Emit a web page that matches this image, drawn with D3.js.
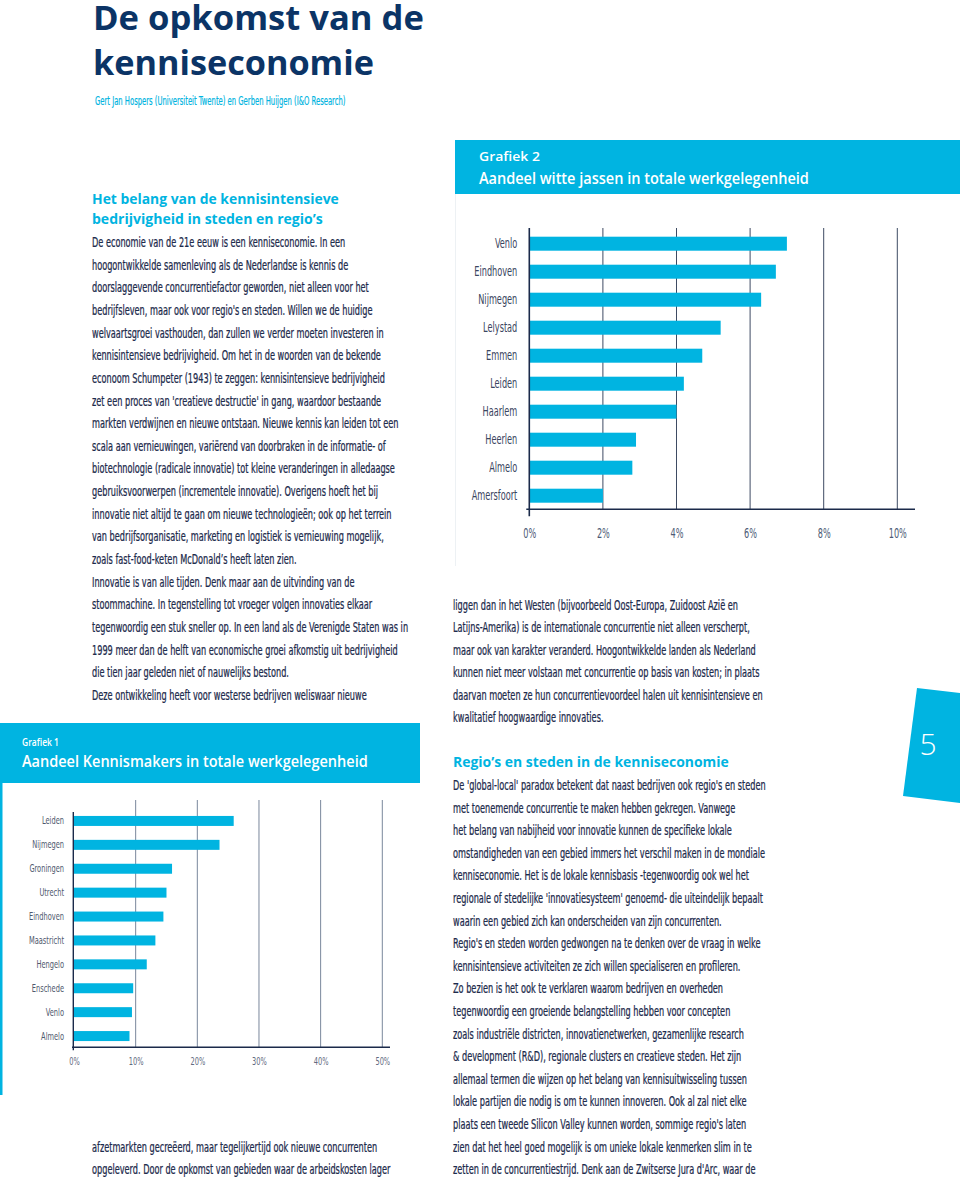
<!DOCTYPE html>
<html>
<head>
<meta charset="utf-8">
<script src="https://cdn.jsdelivr.net/npm/d3@7"></script>
<style>
  body { margin: 0; background: #fff; }
  svg text { font-family: "Liberation Sans Narrow", "Arial Narrow", "DejaVu Sans Condensed", sans-serif; }
  svg text.sans { font-family: "Open Sans", "Noto Sans", sans-serif; }
</style>
</head>
<body>
<svg id="page"></svg>
<script>
// chart data
const cities1 = ["Leiden", "Nijmegen", "Groningen", "Utrecht", "Eindhoven", "Maastricht", "Hengelo", "Enschede", "Venlo", "Almelo"];
const values1 = [25.9, 23.6, 15.9, 15.0, 14.5, 13.2, 11.8, 9.6, 9.4, 9.0];
const ticks1 = [0, 10, 20, 30, 40, 50];

const cities2 = ["Venlo", "Eindhoven", "Nijmegen", "Lelystad", "Emmen", "Leiden", "Haarlem", "Heerlen", "Almelo", "Amersfoort"];
const values2 = [7.0, 6.7, 6.3, 5.2, 4.7, 4.2, 4.0, 2.9, 2.8, 2.0];
const ticks2 = [0, 2, 4, 6, 8, 10];

// article text
const leftLines = [
  "De economie van de 21e eeuw is een kenniseconomie. In een",
  "hoogontwikkelde samenleving als de Nederlandse is kennis de",
  "doorslaggevende concurrentiefactor geworden, niet alleen voor het",
  "bedrijfsleven, maar ook voor regio's en steden. Willen we de huidige",
  "welvaartsgroei vasthouden, dan zullen we verder moeten investeren in",
  "kennisintensieve bedrijvigheid. Om het in de woorden van de bekende",
  "econoom Schumpeter (1943) te zeggen: kennisintensieve bedrijvigheid",
  "zet een proces van 'creatieve destructie' in gang, waardoor bestaande",
  "markten verdwijnen en nieuwe ontstaan. Nieuwe kennis kan leiden tot een",
  "scala aan vernieuwingen, variërend van doorbraken in de informatie- of",
  "biotechnologie (radicale innovatie) tot kleine veranderingen in alledaagse",
  "gebruiksvoorwerpen (incrementele innovatie). Overigens hoeft het bij",
  "innovatie niet altijd te gaan om nieuwe technologieën; ook op het terrein",
  "van bedrijfsorganisatie, marketing en logistiek is vernieuwing mogelijk,",
  "zoals fast-food-keten McDonald’s heeft laten zien.",
  "Innovatie is van alle tijden. Denk maar aan de uitvinding van de",
  "stoommachine. In tegenstelling tot vroeger volgen innovaties elkaar",
  "tegenwoordig een stuk sneller op. In een land als de Verenigde Staten was in",
  "1999 meer dan de helft van economische groei afkomstig uit bedrijvigheid",
  "die tien jaar geleden niet of nauwelijks bestond.",
  "Deze ontwikkeling heeft voor westerse bedrijven weliswaar nieuwe"
];
const bottomLines = [
  "afzetmarkten gecreëerd, maar tegelijkertijd ook nieuwe concurrenten",
  "opgeleverd. Door de opkomst van gebieden waar de arbeidskosten lager"
];
const rightTopLines = [
  "liggen dan in het Westen (bijvoorbeeld Oost-Europa, Zuidoost Azië en",
  "Latijns-Amerika) is de internationale concurrentie niet alleen verscherpt,",
  "maar ook van karakter veranderd. Hoogontwikkelde landen als Nederland",
  "kunnen niet meer volstaan met concurrentie op basis van kosten; in plaats",
  "daarvan moeten ze hun concurrentievoordeel halen uit kennisintensieve en",
  "kwalitatief hoogwaardige innovaties."
];
const rightLines = [
  "De 'global-local' paradox betekent dat naast bedrijven ook regio's en steden",
  "met toenemende concurrentie te maken hebben gekregen. Vanwege",
  "het belang van nabijheid voor innovatie kunnen de specifieke lokale",
  "omstandigheden van een gebied immers het verschil maken in de mondiale",
  "kenniseconomie. Het is de lokale kennisbasis -tegenwoordig ook wel het",
  "regionale of stedelijke 'innovatiesysteem' genoemd- die uiteindelijk bepaalt",
  "waarin een gebied zich kan onderscheiden van zijn concurrenten.",
  "Regio's en steden worden gedwongen na te denken over de vraag in welke",
  "kennisintensieve activiteiten ze zich willen specialiseren en profileren.",
  "Zo bezien is het ook te verklaren waarom bedrijven en overheden",
  "tegenwoordig een groeiende belangstelling hebben voor concepten",
  "zoals industriële districten, innovatienetwerken, gezamenlijke research",
  "& development (R&D), regionale clusters en creatieve steden. Het zijn",
  "allemaal termen die wijzen op het belang van kennisuitwisseling tussen",
  "lokale partijen die nodig is om te kunnen innoveren. Ook al zal niet elke",
  "plaats een tweede Silicon Valley kunnen worden, sommige regio's laten",
  "zien dat het heel goed mogelijk is om unieke lokale kenmerken slim in te",
  "zetten in de concurrentiestrijd. Denk aan de Zwitserse Jura d'Arc, waar de"
];

const cyan = "#00b4e1", navy = "#0b3466", ink = "#1d2b4c";

const svg = d3.select("#page").attr("width", 960).attr("height", 1184);

// squeeze a text horizontally around its own x
function squeeze(sel, f) {
  sel.each(function () {
    const t = d3.select(this);
    const x = +(t.attr("x") || 0);
    t.attr("x", x / f).attr("transform", "scale(" + f + ",1)");
  });
}
function fit(sel, w) {
  const len = sel.node().getComputedTextLength();
  squeeze(sel, w / len);
  return sel;
}

// body text factor, from one known line width
const probe = svg.append("text").attr("font-size", 13.5).text(leftLines[2]);
const bodyF = 277 / probe.node().getComputedTextLength();
probe.remove();

function block(lines, x, y0, step) {
  const t = svg.append("g").selectAll("text")
    .data(lines)
    .enter().append("text")
      .attr("x", x)
      .attr("y", (d, i) => y0 + i * step)
      .attr("font-size", 13.5)
      .attr("fill", ink)
      .attr("stroke", ink)
      .attr("stroke-width", 0.25)
      .text(d => d);
  squeeze(t, bodyF);
}

// title
fit(svg.append("text").attr("class", "sans").attr("x", 93).attr("y", 30)
  .attr("font-size", 34).attr("font-weight", 700).attr("fill", navy).text("De opkomst van de"), 331);
fit(svg.append("text").attr("class", "sans").attr("x", 93).attr("y", 75)
  .attr("font-size", 34).attr("font-weight", 700).attr("fill", navy).text("kenniseconomie"), 281);
fit(svg.append("text").attr("x", 95).attr("y", 105).attr("font-size", 12.5).attr("fill", cyan)
  .attr("stroke", cyan).attr("stroke-width", 0.2)
  .text("Gert Jan Hospers (Universiteit Twente) en Gerben Huijgen (I&O Research)"), 251);

// left column
fit(svg.append("text").attr("class", "sans").attr("x", 92).attr("y", 204)
  .attr("font-size", 15).attr("font-weight", 700).attr("fill", cyan).text("Het belang van de kennisintensieve"), 247);
fit(svg.append("text").attr("class", "sans").attr("x", 92).attr("y", 224)
  .attr("font-size", 15).attr("font-weight", 700).attr("fill", cyan).text("bedrijvigheid in steden en regio’s"), 231);
block(leftLines, 92, 247, 22.65);
block(bottomLines, 92, 1152, 22.4);

// right column
block(rightTopLines, 453, 610, 22.45);
fit(svg.append("text").attr("class", "sans").attr("x", 453).attr("y", 767)
  .attr("font-size", 15).attr("font-weight", 700).attr("fill", cyan).text("Regio’s en steden in de kenniseconomie"), 276);
block(rightLines, 453, 790, 22.6);

// page number tab
svg.append("polygon")
  .attr("points", "917,688 960,693 960,803 903,796")
  .attr("fill", cyan);
svg.append("text").attr("class", "sans").attr("x", 928).attr("y", 755)
  .attr("text-anchor", "middle").attr("font-size", 30).attr("font-weight", 300)
  .attr("fill", "#fff").text("5");

// ---------- Grafiek 2 ----------
svg.append("rect").attr("x", 455).attr("y", 140).attr("width", 505).attr("height", 54).attr("fill", cyan);
svg.append("line").attr("x1", 455.5).attr("x2", 455.5).attr("y1", 194).attr("y2", 566)
  .attr("stroke", "#edf1f4").attr("stroke-width", 1);
fit(svg.append("text").attr("class", "sans").attr("x", 479).attr("y", 161)
  .attr("font-size", 12).attr("font-weight", 600).attr("fill", "#fff").text("Grafiek 2"), 61);
fit(svg.append("text").attr("class", "sans").attr("x", 479).attr("y", 184)
  .attr("font-size", 16).attr("font-weight", 600).attr("fill", "#fff").text("Aandeel witte jassen in totale werkgelegenheid"), 330);

const x2 = d3.scaleLinear().domain([0, 10]).range([529.3, 897.3]);
const y2 = d3.scaleBand().domain(cities2).range([222.7, 516.7]).paddingInner(0.5).paddingOuter(0.5);
const g2 = svg.append("g");
const base2 = 509.3;

g2.selectAll("line.grid")
  .data(ticks2.filter(d => d > 0))
  .enter().append("line")
    .attr("class", "grid")
    .attr("x1", d => x2(d)).attr("x2", d => x2(d))
    .attr("y1", 228).attr("y2", base2)
    .attr("stroke", "#3e4b63").attr("stroke-width", 1);

g2.selectAll("rect.bar")
  .data(values2)
  .enter().append("rect")
    .attr("class", "bar")
    .attr("x", x2(0))
    .attr("y", (d, i) => y2(cities2[i]))
    .attr("width", d => x2(d) - x2(0))
    .attr("height", y2.bandwidth())
    .attr("fill", cyan);

const ax2y = g2.append("g").attr("transform", "translate(" + x2(0) + ",0)")
  .call(d3.axisLeft(y2).tickSize(0).tickPadding(12));
ax2y.select(".domain").remove();
ax2y.selectAll("text").attr("font-size", 13.5).attr("fill", "#3a4560");
squeeze(ax2y.selectAll("text"), bodyF);

const ax2x = g2.append("g").attr("transform", "translate(0," + base2 + ")")
  .call(d3.axisBottom(x2).tickValues(ticks2).tickFormat(d => d + "%").tickSize(0).tickPadding(19));
ax2x.select(".domain").remove();
ax2x.selectAll("text").attr("font-size", 13.5).attr("fill", "#4d5a75");
squeeze(ax2x.selectAll("text"), bodyF);

g2.append("line").attr("x1", x2(0)).attr("x2", x2(0)).attr("y1", 228).attr("y2", base2 + 7)
  .attr("stroke", "#1b2a4a").attr("stroke-width", 1.6);
g2.append("line").attr("x1", x2(0) - 3).attr("x2", 915).attr("y1", base2).attr("y2", base2)
  .attr("stroke", "#1b2a4a").attr("stroke-width", 1.6);

// ---------- Grafiek 1 ----------
svg.append("rect").attr("x", 0).attr("y", 723).attr("width", 420).attr("height", 60).attr("fill", cyan);
svg.append("rect").attr("x", 0).attr("y", 783).attr("width", 2.5).attr("height", 312).attr("fill", cyan);
fit(svg.append("text").attr("class", "sans").attr("x", 22).attr("y", 746)
  .attr("font-size", 11).attr("font-weight", 600).attr("fill", "#fff").text("Grafiek 1"), 37);
fit(svg.append("text").attr("class", "sans").attr("x", 22).attr("y", 767)
  .attr("font-size", 16).attr("font-weight", 600).attr("fill", "#fff").text("Aandeel Kennismakers in totale werkgelegenheid"), 346);

const x1 = d3.scaleLinear().domain([0, 50]).range([74, 382.3]);
const y1 = d3.scaleBand().domain(cities1).range([804, 1053]).paddingInner(0.582).paddingOuter(0.5);
const g1 = svg.append("g");
const base1 = 1047.3;

g1.selectAll("line.grid")
  .data(ticks1.filter(d => d > 0))
  .enter().append("line")
    .attr("class", "grid")
    .attr("x1", d => x1(d)).attr("x2", d => x1(d))
    .attr("y1", 800).attr("y2", base1)
    .attr("stroke", "#7a879c").attr("stroke-width", 1);

g1.selectAll("rect.bar")
  .data(values1)
  .enter().append("rect")
    .attr("class", "bar")
    .attr("x", x1(0))
    .attr("y", (d, i) => y1(cities1[i]))
    .attr("width", d => x1(d) - x1(0))
    .attr("height", y1.bandwidth())
    .attr("fill", cyan);

const ax1y = g1.append("g").attr("transform", "translate(" + x1(0) + ",0)")
  .call(d3.axisLeft(y1).tickSize(0).tickPadding(10));
ax1y.select(".domain").remove();
ax1y.selectAll("text").attr("font-size", 11).attr("fill", "#4f596e");
squeeze(ax1y.selectAll("text"), bodyF);

const ax1x = g1.append("g").attr("transform", "translate(0," + base1 + ")")
  .call(d3.axisBottom(x1).tickValues(ticks1).tickFormat(d => d + "%").tickSize(0).tickPadding(10));
ax1x.select(".domain").remove();
ax1x.selectAll("text").attr("font-size", 11).attr("fill", "#5f6a80");
squeeze(ax1x.selectAll("text"), bodyF);

g1.append("line").attr("x1", x1(0) - 0.7).attr("x2", x1(0) - 0.7).attr("y1", 812).attr("y2", base1 + 3)
  .attr("stroke", "#1b2a4a").attr("stroke-width", 1.4);
g1.append("line").attr("x1", x1(0) - 2).attr("x2", 390).attr("y1", base1).attr("y2", base1)
  .attr("stroke", "#1b2a4a").attr("stroke-width", 1.4);
</script>
</body>
</html>
